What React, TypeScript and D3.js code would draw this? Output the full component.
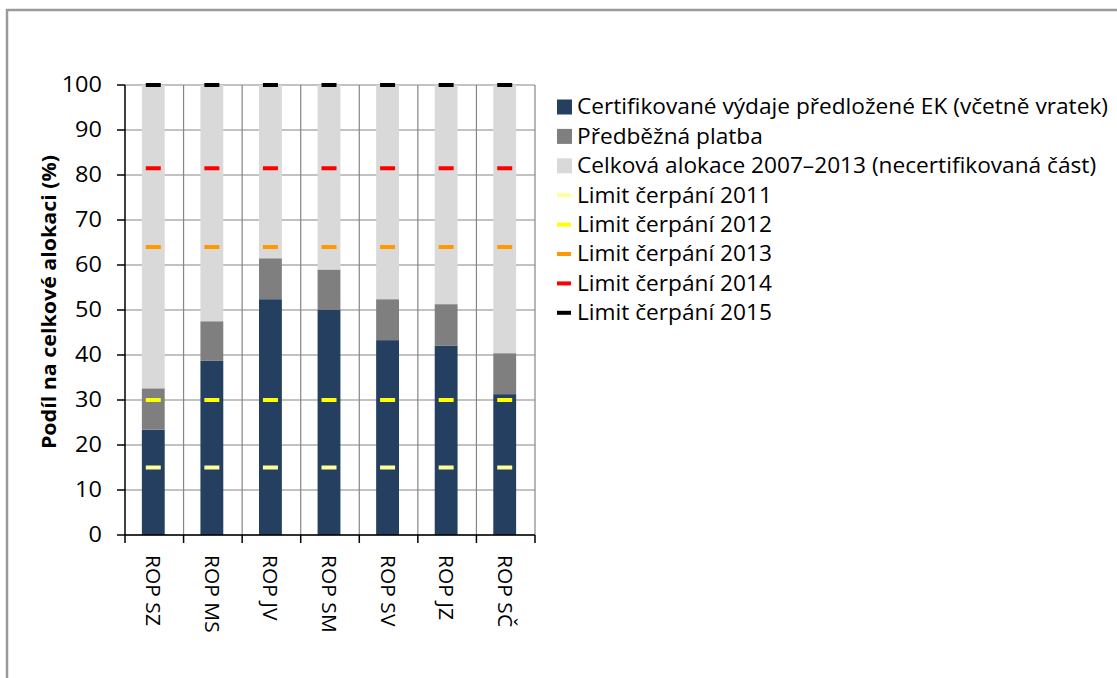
import React from 'react';
import * as d3 from 'd3';

// ROP regions
const categories = ['ROP SZ', 'ROP MS', 'ROP JV', 'ROP SM', 'ROP SV', 'ROP JZ', 'ROP SČ'];

// stacked shares (%)
const certified = [23.4, 38.7, 52.4, 50.0, 43.3, 42.1, 31.3];
const advance = [9.2, 8.8, 9.1, 9.0, 9.1, 9.2, 9.1];
const remainder = categories.map((_, i) => 100 - certified[i] - advance[i]);

const seriesNames = [
  'Certifikované výdaje předložené EK (včetně vratek)',
  'Předběžná platba',
  'Celková alokace 2007–2013 (necertifikovaná část)',
];
const seriesColors = ['#243f60', '#7f7f7f', '#d9d9d9'];

// drawdown limits, same for each programme
const limitNames = ['Limit čerpání 2011', 'Limit čerpání 2012', 'Limit čerpání 2013', 'Limit čerpání 2014', 'Limit čerpání 2015'];
const limitValues = [15, 30, 64, 81.5, 100];
const limitColors = ['#ffff99', '#ffff00', '#ff9900', '#ff0000', '#000000'];

const yTicks = [0, 10, 20, 30, 40, 50, 60, 70, 80, 90, 100];

const FONT = '"Open Sans", sans-serif';

const App = () => {
  const width = 1117, height = 678;
  const plot = { left: 125, right: 535, top: 85, bottom: 535 };

  const x = d3.scaleBand<string>().domain(categories).range([plot.left, plot.right]).padding(0);
  const y = d3.scaleLinear().domain([0, 100]).range([plot.bottom, plot.top]);
  const barW = x.bandwidth() * 0.39;
  const markW = 15;

  const stack = d3.stack<any>().keys(['c', 'a', 'r'])(
    categories.map((cat, i) => ({ cat, c: certified[i], a: advance[i], r: remainder[i] }))
  );

  const legendX = 557;
  const legendY = 107;
  const legendStep = 29.4;

  return (
    <svg width={width} height={height} style={{ position: 'absolute', left: 0, top: 0 }}>
      <rect x={0} y={0} width={width} height={height} fill="#fff" />
      {/* outer frame */}
      <rect x={7} y={10} width={width + 10} height={height + 10} fill="none" stroke="#9a9a9a" strokeWidth={2.5} />

      {/* grid */}
      {yTicks.map((t) => (
        <line key={'gy' + t} x1={plot.left} x2={plot.right} y1={y(t)} y2={y(t)} stroke="#868686" strokeWidth={1.2} />
      ))}
      {categories.map((c) => (
        <line key={'gx' + c} x1={(x(c) as number) + x.bandwidth()} x2={(x(c) as number) + x.bandwidth()} y1={plot.top} y2={plot.bottom} stroke="#868686" strokeWidth={1.2} />
      ))}

      {/* bars */}
      {stack.map((layer, li) => (
        <g key={'s' + li} fill={seriesColors[li]}>
          {layer.map((d, i) => (
            <rect
              key={i}
              x={(x(categories[i]) as number) + (x.bandwidth() - barW) / 2 - 1}
              width={barW}
              y={y(d[1])}
              height={y(d[0]) - y(d[1])}
            />
          ))}
        </g>
      ))}

      {/* limit markers */}
      {limitValues.map((v, li) => (
        <g key={'l' + li} fill={limitColors[li]}>
          {categories.map((c) => (
            <rect key={c} x={(x(c) as number) + x.bandwidth() / 2 - markW / 2 - 1} y={y(v) - 2} width={markW} height={4} />
          ))}
        </g>
      ))}

      {/* axes */}
      <line x1={plot.left} x2={plot.left} y1={plot.top} y2={plot.bottom} stroke="#000" strokeWidth={1.5} />
      <line x1={plot.left} x2={plot.right} y1={plot.bottom} y2={plot.bottom} stroke="#000" strokeWidth={1.5} />
      {yTicks.map((t) => (
        <g key={'ty' + t}>
          <line x1={plot.left - 8} x2={plot.left} y1={y(t)} y2={y(t)} stroke="#000" strokeWidth={1.5} />
          <text transform={`translate(102,${y(t)}) scale(1.12,1)`} dy="0.35em" textAnchor="end" fontFamily={FONT} fontSize={21} fill="#000">
            {t}
          </text>
        </g>
      ))}
      {[plot.left, ...categories.map((c) => (x(c) as number) + x.bandwidth())].map((px, i) => (
        <line key={'tx' + i} x1={px} x2={px} y1={plot.bottom} y2={plot.bottom + 8} stroke="#000" strokeWidth={1.5} />
      ))}
      {categories.map((c) => (
        <text
          key={'lx' + c}
          transform={`translate(${(x(c) as number) + x.bandwidth() / 2 - 1},555) rotate(90) scale(1.05,1)`}
          textAnchor="start"
          dy="0.35em"
          fontFamily={FONT}
          fontSize={20}
          fill="#000"
        >
          {c}
        </text>
      ))}

      <text
        transform="translate(49,302) rotate(-90) scale(1.07,1)"
        textAnchor="middle"
        dy="0.35em"
        fontFamily={FONT}
        fontWeight="bold"
        fontSize={20}
        fill="#000"
      >
        Podíl na celkové alokaci (%)
      </text>

      {/* legend */}
      {seriesNames.map((name, i) => (
        <g key={'ls' + i} transform={`translate(${legendX},${legendY + i * legendStep})`}>
          <rect x={0} y={-7.5} width={15} height={15} fill={seriesColors[i]} />
          <text transform="translate(20,0) scale(1.08,1)" dy="0.35em" fontFamily={FONT} fontSize={21} fill="#000">{name}</text>
        </g>
      ))}
      {limitNames.map((name, i) => (
        <g key={'ll' + i} transform={`translate(${legendX},${legendY + (i + 3) * legendStep})`}>
          <rect x={0} y={-2} width={14} height={4} fill={limitColors[i]} />
          <text transform="translate(20,0) scale(1.08,1)" dy="0.35em" fontFamily={FONT} fontSize={21} fill="#000">{name}</text>
        </g>
      ))}
    </svg>
  );
};

export default App;
